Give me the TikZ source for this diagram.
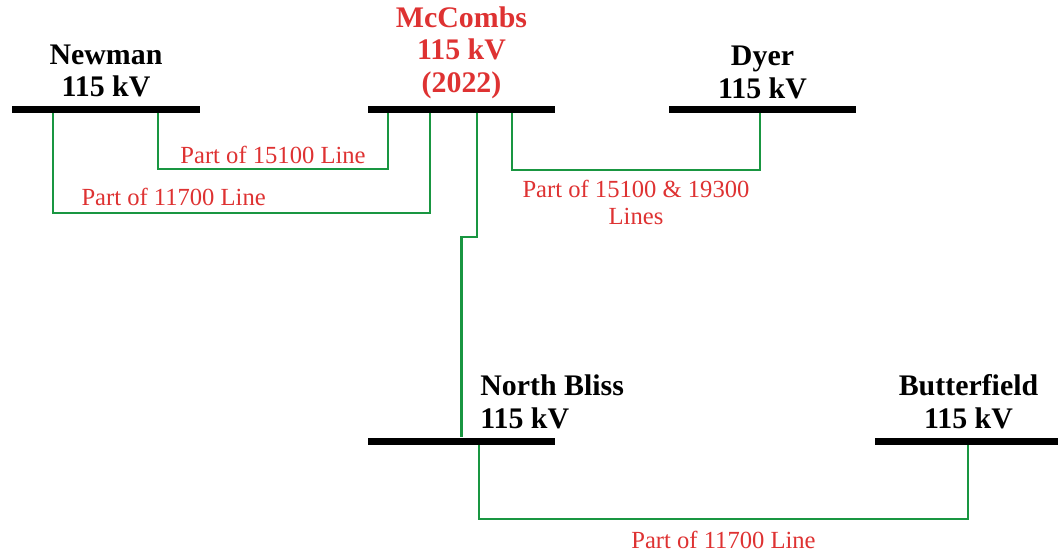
\documentclass[tikz,border=0pt]{standalone}
\usepackage{fontspec}
\setmainfont{Liberation Serif}
\usepackage{tikz}
\usetikzlibrary{positioning}
\definecolor{linegreen}{RGB}{25,150,65}
\definecolor{labelred}{RGB}{222,50,50}

\begin{document}
\begin{tikzpicture}[scale=1.0]

 \tikzstyle{bus}=[fill=black,inner sep=0cm,minimum width=3.74cm,minimum height=0.14cm]
 \tikzstyle{busname}=[inner sep=0cm,align=center,font=\fontsize{17}{18.6}\selectfont\bfseries]
 \tikzstyle{feeder}=[linegreen,line width=1.3pt]
 \tikzstyle{linename}=[text=labelred,inner sep=0cm,align=center,font=\fontsize{14}{15.4}\selectfont]

\useasboundingbox (0,0) rectangle (21.16,-11.08);

% Buses
\node[bus] (newman) at (2.12,-2.18) {};
\node[bus] (mccombs) [node distance=7.11cm,right of=newman] {};
\node[bus] (dyer) [node distance=6.02cm,right of=mccombs] {};
\node[bus] (nbliss) [node distance=6.64cm,below of=mccombs] {};
\node[bus] (bfield) [node distance=10.14cm,right of=nbliss] {};

% Bus names
\node[busname] (newman_txt) [above=0.15cm of newman] {Newman\\115 kV};
\node[busname,text=labelred] (mccombs_txt) [above=0.12cm of mccombs] {McCombs\\115 kV\\(2022)};
\node[busname] (dyer_txt) [above=0.12cm of dyer] {Dyer\\115 kV};
\node[busname,align=left] (nbliss_txt) [above right=0.16cm and 0.37cm of nbliss.north] {North Bliss\\115 kV};
\node[busname] (bfield_txt) [above=0.16cm of bfield] {Butterfield\\115 kV};

% Lines
\draw[feeder] ([xshift=1.04cm]newman.south) -- ++(0,-1.13)
   -| node[linename,pos=0.25,above=0.08cm] {Part of 15100 Line} ([xshift=-1.47cm]mccombs.south);

\draw[feeder] ([xshift=-1.06cm]newman.south) -- ++(0,-2.01)
   -| node[linename,pos=0.16,above=0.12cm] {Part of 11700 Line} ([xshift=-0.63cm]mccombs.south);

\draw[feeder] ([xshift=1.01cm]mccombs.south) -- ++(0,-1.15)
   -| node[linename,pos=0.25,below=0.18cm] {Part of 15100 \& 19300\\Lines} ([xshift=-0.05cm]dyer.south);

\draw[feeder] ([xshift=0.31cm]mccombs.south) -- ++(0,-2.49) -| (nbliss.north);

\draw[feeder] ([xshift=0.35cm]nbliss.south) -- ++(0,-1.48)
   -| node[linename,pos=0.25,below=0.23cm] {Part of 11700 Line} ([xshift=-0.01cm]bfield.south);

\end{tikzpicture}
\end{document}
